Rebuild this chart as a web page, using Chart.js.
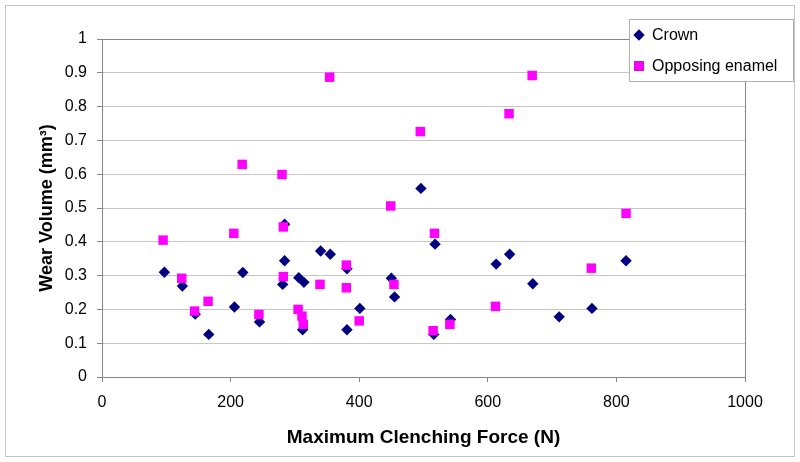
<!DOCTYPE html>
<html>
<head>
<meta charset="utf-8">
<script src="https://cdn.jsdelivr.net/npm/chart.js@4/dist/chart.umd.min.js"></script>
<style>
  html, body { margin: 0; padding: 0; background: #ffffff; }
  #wrap { width: 800px; height: 462px; position: relative; }
</style>
</head>
<body>
<div id="wrap"><canvas id="c" width="800" height="462"></canvas></div>
<script>
// ---- Data ----
const crownForce = [97, 125, 145, 166, 206, 219, 245, 284, 284, 281, 306, 314, 312, 340, 355, 381, 381, 401, 450, 455, 496, 518, 516, 542, 613, 634, 670, 711, 762, 815];
const crownWear  = [0.310, 0.269, 0.186, 0.126, 0.207, 0.309, 0.163, 0.452, 0.344, 0.274, 0.294, 0.280, 0.140, 0.373, 0.363, 0.320, 0.140, 0.203, 0.292, 0.237, 0.558, 0.393, 0.126, 0.170, 0.334, 0.363, 0.276, 0.178, 0.203, 0.344];
const enamelForce = [95, 124, 144, 165, 205, 218, 244, 280, 282, 282, 305, 311, 313, 339, 354, 380, 380, 400, 449, 454, 495, 517, 515, 541, 612, 633, 669, 761, 815];
const enamelWear  = [0.405, 0.292, 0.195, 0.224, 0.425, 0.629, 0.185, 0.599, 0.444, 0.297, 0.200, 0.180, 0.156, 0.274, 0.887, 0.331, 0.264, 0.166, 0.506, 0.274, 0.726, 0.425, 0.137, 0.156, 0.209, 0.779, 0.892, 0.322, 0.484];
const seriesNames = ["Crown", "Opposing enamel"];
const xTicks = [0, 200, 400, 600, 800, 1000];
const yTicks = [0, 0.1, 0.2, 0.3, 0.4, 0.5, 0.6, 0.7, 0.8, 0.9, 1];
const xTitle = "Maximum Clenching Force (N)";
const yTitle = "Wear Volume (mm\u00B3)";

const FONT = "'Liberation Sans', Arial, sans-serif";
const toPoints = (xs, ys) => xs.map((x, i) => ({ x: x, y: ys[i] }));

const frame = {
  id: 'frame',
  beforeDraw(chart) {
    const ctx = chart.ctx;
    ctx.save();
    ctx.fillStyle = '#ffffff';
    ctx.fillRect(0, 0, chart.width, chart.height);
    ctx.strokeStyle = '#c4c4c4';
    ctx.lineWidth = 1;
    ctx.strokeRect(5.5, 5.5, 789, 451);
    ctx.restore();
  },
  beforeDatasetsDraw(chart) {
    const a = chart.chartArea, ctx = chart.ctx;
    ctx.save();
    ctx.strokeStyle = '#868686';
    ctx.lineWidth = 1;
    ctx.beginPath();
    ctx.moveTo(Math.round(a.left) + 0.5, Math.round(a.top) + 0.5);
    ctx.lineTo(Math.round(a.right) + 0.5, Math.round(a.top) + 0.5);
    ctx.lineTo(Math.round(a.right) + 0.5, Math.round(a.bottom) + 0.5);
    ctx.stroke();
    ctx.restore();
  },
  afterDraw(chart) {
    const ctx = chart.ctx;
    ctx.save();
    const bx = 629.5, by = 19.5, bw = 164, bh = 62;
    ctx.fillStyle = '#ffffff';
    ctx.fillRect(bx, by, bw, bh);
    ctx.strokeStyle = '#b0b0b0';
    ctx.lineWidth = 1;
    ctx.strokeRect(bx, by, bw, bh);
    const items = [0, 1];
    const rows = [35, 66];
    items.forEach((di, k) => {
      const ds = chart.data.datasets.find(d => d.label === seriesNames[di]);
      Chart.helpers.drawPoint(ctx, {
        pointStyle: ds.pointStyle,
        radius: ds.pointRadius,
        borderWidth: 0,
        rotation: 0
      }, 639, rows[k]);
      ctx.fillStyle = ds.backgroundColor;
      ctx.fill();
      ctx.fillStyle = '#000000';
      ctx.font = "16px " + FONT;
      ctx.textBaseline = 'middle';
      ctx.textAlign = 'left';
      ctx.fillText(ds.label, 652, rows[k] + 1);
    });
    ctx.restore();
  }
};

new Chart(document.getElementById('c'), {
  type: 'scatter',
  data: {
    datasets: [
      {
        label: seriesNames[0],
        data: toPoints(crownForce, crownWear),
        pointStyle: 'rectRot',
        pointRadius: 5.7,
        pointHoverRadius: 5.7,
        backgroundColor: '#000080',
        borderColor: '#000080',
        pointBorderWidth: 0,
        order: 1
      },
      {
        label: seriesNames[1],
        data: toPoints(enamelForce, enamelWear),
        pointStyle: 'rect',
        pointRadius: 6.7,
        pointHoverRadius: 6.7,
        backgroundColor: '#ff00ff',
        borderColor: '#ff00ff',
        pointBorderWidth: 0,
        order: 0
      }
    ]
  },
  options: {
    responsive: false,
    animation: false,
    layout: { padding: { left: 0, top: 39, right: 55, bottom: 0 } },
    plugins: {
      legend: { display: false },
      tooltip: { enabled: false }
    },
    scales: {
      x: {
        type: 'linear',
        min: xTicks[0],
        max: xTicks[xTicks.length - 1],
        afterFit(scale) { scale.height = 85; },
        afterBuildTicks(scale) { scale.ticks = xTicks.map(v => ({ value: v })); },
        ticks: {
          color: '#000000',
          font: { family: FONT, size: 16 },
          padding: 11,
          maxRotation: 0,
          callback: (v) => String(v)
        },
        grid: {
          drawOnChartArea: false,
          drawTicks: true,
          tickLength: 5,
          tickColor: '#868686'
        },
        border: { color: '#868686', width: 1 },
        title: {
          display: true,
          text: xTitle,
          color: '#000000',
          font: { family: FONT, size: 19, weight: 'bold' },
          padding: { top: 0, bottom: 13 }
        }
      },
      y: {
        type: 'linear',
        min: yTicks[0],
        max: yTicks[yTicks.length - 1],
        afterFit(scale) { scale.width = 102; },
        afterBuildTicks(scale) { scale.ticks = yTicks.map(v => ({ value: v })); },
        ticks: {
          color: '#000000',
          font: { family: FONT, size: 16 },
          padding: 10,
          callback: (v) => String(+v.toFixed(1))
        },
        grid: {
          color: '#c6c6c6',
          drawTicks: true,
          tickLength: 5,
          tickColor: '#868686'
        },
        border: { color: '#868686', width: 1 },
        title: {
          display: true,
          text: yTitle,
          color: '#000000',
          font: { family: FONT, size: 18, weight: 'bold' },
          padding: { top: 36, bottom: 0 }
        }
      }
    }
  },
  plugins: [frame]
});
</script>
</body>
</html>
